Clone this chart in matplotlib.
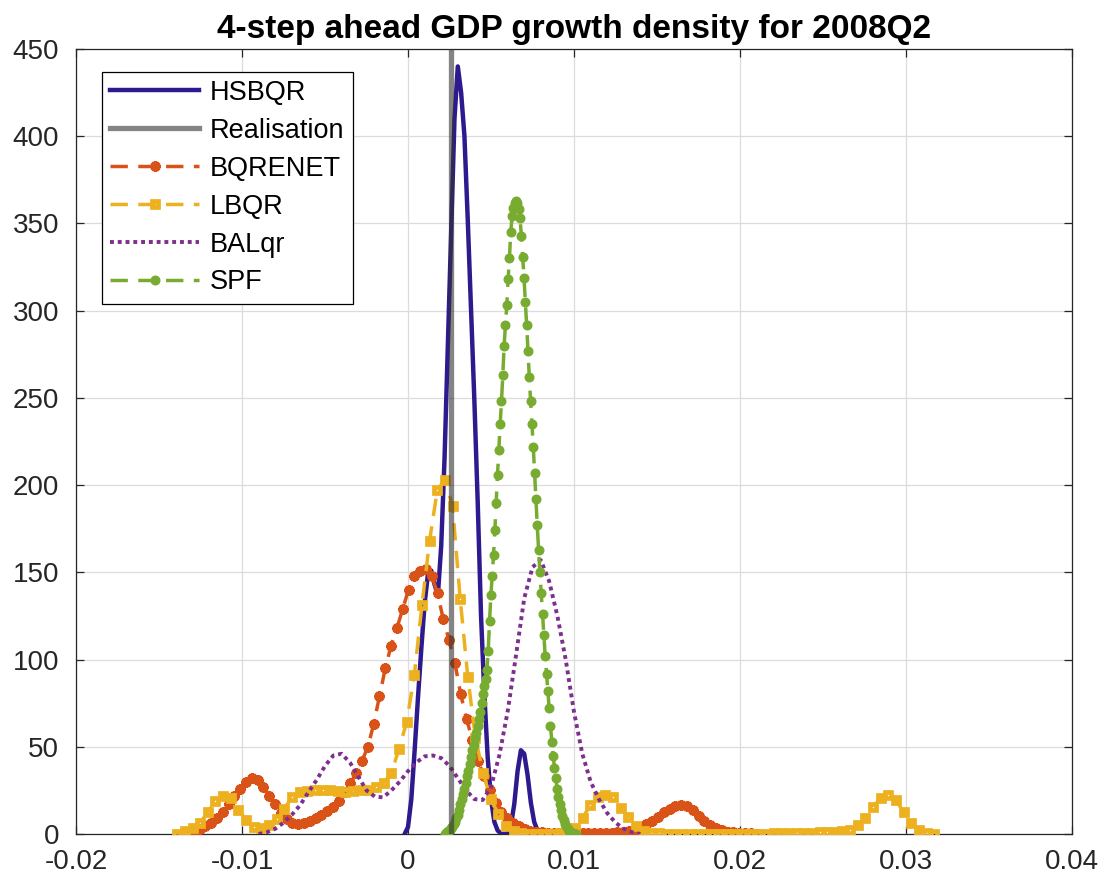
import numpy as np
import matplotlib
matplotlib.use("Agg")
import matplotlib.pyplot as plt

plt.rcParams['font.family'] = ['Liberation Sans', 'DejaVu Sans']

# ---- data -------------------------------------------------------------
title = "4-step ahead GDP growth density for 2008Q2"
labels = ["HSBQR", "Realisation", "BQRENET", "LBQR", "BALqr", "SPF"]

realisation = 0.0026

hsbqr_x = np.linspace(-0.0002, 0.0082, 43)
hsbqr_y = [0, 4, 20, 48, 78, 106, 132, 149, 151, 143,
           137, 165, 215, 280, 345, 410, 440, 425, 400, 352,
           300, 248, 190, 125, 80, 44, 20, 7, 2, 0.3,
           0, 0.5, 5, 17, 36, 48, 46, 34, 18, 7,
           2, 0.3, 0]

bqrenet_x = np.linspace(-0.0136, 0.0210, 100)
bqrenet_y = [0, 0.5, 1.5, 3, 4.5, 6.5, 9, 12.5, 17, 21.5,
             26, 30, 32, 31, 27, 22, 17, 12, 8.5, 6.5,
             6, 6.5, 7.5, 9, 11, 13, 15.5, 19, 24, 29,
             35, 42, 50, 63, 79, 95, 108, 118, 129, 140,
             148, 151, 152, 148, 138, 123, 111, 98, 80, 66,
             54, 42, 33, 25, 18, 12.5, 9, 6.5, 4.5, 3,
             2, 1.3, 0.9, 0.6, 0.5, 0.4, 0.4, 0.4, 0.4, 0.4,
             0.5, 0.5, 0.6, 0.7, 0.8, 1.0, 1.2, 1.6, 2.5, 3.8,
             5.5, 7.5, 10, 12.5, 14.5, 16, 16.5, 15.8, 13.5, 10.5,
             7.5, 5, 3.3, 2.2, 1.4, 0.9, 0.6, 0.4, 0.3, 0.2]

lbqr_x = np.linspace(-0.0139, 0.0317, 100)
lbqr_y = [0, 1.5, 3.3, 6.5, 12.5, 19, 22, 20.5, 14, 8,
          3.8, 3.5, 5, 8.5, 14.5, 21, 24, 24.5, 25, 25,
          25, 24.5, 24.2, 24.5, 25, 25.5, 27, 29.5, 34.7, 49,
          64, 91, 131, 168, 197, 203, 188, 135, 90, 55,
          35, 20, 11.5, 4.5, 1.5, 0.5, 0.2, 0.1, 0.1, 0.2,
          0.5, 1.5, 3.5, 9, 16.5, 21, 22.3, 21, 15, 9.5,
          4.5, 1.5, 0.5, 0.3, 0.2, 0.2, 0.2, 0.2, 0.2, 0.2,
          0.2, 0.2, 0.2, 0.2, 0.2, 0.2, 0.2, 0.2, 0.3, 0.3,
          0.4, 0.5, 0.6, 0.8, 1.0, 1.1, 1.3, 1.6, 2.5, 5,
          9, 15.5, 20.5, 22.3, 19.4, 12.5, 6.5, 2.5, 0.8, 0.2]

balqr_x = np.linspace(-0.0090, 0.0140, 47)
balqr_y = [0, 1, 3, 6.5, 11, 16.5, 24, 31, 39, 45,
           46, 41, 33, 25, 21.5, 21, 25, 30, 36, 41,
           44.5, 45, 43.5, 39, 32, 25, 20, 19.5, 27, 45,
           70, 102, 135, 153, 157, 145, 125, 100, 70, 46,
           30, 20, 12, 6.5, 3, 1, 0]

spf_x = np.linspace(0.0022, 0.0101, 100)
spf_y = [0, 0.5, 1, 2, 2.5, 3.5, 4, 5.5, 7, 9,
         11, 14, 17, 20, 23, 26, 29, 33, 36, 40,
         44, 48, 51, 55, 58, 62, 66, 70, 75, 80,
         85, 89, 94, 105, 122, 137, 148, 160, 174, 190,
         206, 220, 235, 248, 263, 280, 292, 303, 318, 330,
         345, 354, 359, 362, 363, 362, 358, 353, 343, 331,
         319, 305, 292, 277, 262, 248, 235, 222, 207, 192,
         177, 163, 150, 138, 126, 114, 102, 92, 82, 72,
         62, 53, 45, 38, 32, 26, 21, 17, 13.5, 10.5,
         8, 6, 4.3, 3, 2, 1.2, 0.7, 0.3, 0.1, 0]

xticks = [-0.02, -0.01, 0, 0.01, 0.02, 0.03, 0.04]
xticklabels = ["-0.02", "-0.01", "0", "0.01", "0.02", "0.03", "0.04"]
yticks = list(range(0, 451, 50))

# ---- colours ----------------------------------------------------------
c_hs = "#2E1A8E"
c_bq = "#D95319"
c_lb = "#EDB120"
c_ba = "#7E2F8E"
c_sp = "#77AC30"
c_ax = "#262626"

# ---- figure -----------------------------------------------------------
fig = plt.figure(figsize=(11.07, 8.86), dpi=100)
ax = fig.add_axes([76 / 1107, 52 / 886, 996 / 1107, 785 / 886])

h_hs, = ax.plot(hsbqr_x, hsbqr_y, color=c_hs, lw=3.2, solid_joinstyle="round", zorder=3)
h_re = ax.axvline(realisation, color=(0.2, 0.2, 0.2), alpha=0.6, lw=3.8, zorder=8)
h_bq, = ax.plot(bqrenet_x, bqrenet_y, color=c_bq, lw=2.5, dashes=(5, 3),
                marker=(8, 2, 0), ms=7.5, mew=2.4, mec=c_bq, zorder=4)
h_lb, = ax.plot(lbqr_x, lbqr_y, color=c_lb, lw=2.5, dashes=(5, 3),
                marker="s", ms=4.8, mew=3.4, mec=c_lb, mfc="none", zorder=5)
h_ba, = ax.plot(balqr_x, balqr_y, color=c_ba, lw=2.8, dashes=(1, 1.0),
                dash_capstyle="butt", zorder=6)
h_sp, = ax.plot(spf_x, spf_y, color=c_sp, lw=2.5, dashes=(5, 3),
                marker="o", ms=6.2, mec=c_sp, mfc=c_sp, zorder=7)

ax.set_xlim(-0.02, 0.04)
ax.set_ylim(0, 450)
ax.set_xticks(xticks)
ax.set_xticklabels(xticklabels)
ax.set_yticks(yticks)

ax.grid(True, color="#dcdcdc", lw=0.9)
ax.set_axisbelow(True)
for s in ax.spines.values():
    s.set_color(c_ax)
    s.set_linewidth(0.9)
    s.set_zorder(2.5)

ax.tick_params(axis="both", direction="in", length=6, width=0.9, color=c_ax,
               labelcolor=c_ax, labelsize=20, top=True, right=True)
ax.tick_params(axis="x", pad=11)
ax.tick_params(axis="y", pad=12)

ax.set_title(title, fontsize=24, fontweight="bold", color="black", pad=8)

leg = ax.legend([h_hs, h_re, h_bq, h_lb, h_ba, h_sp], labels,
                loc="upper left", bbox_to_anchor=(0.0258, 0.971),
                borderaxespad=0, fontsize=19.5, handlelength=3.3,
                handletextpad=0.4, labelspacing=0.44, borderpad=0.3,
                fancybox=False, framealpha=1, edgecolor="black", numpoints=1)
leg.get_frame().set_linewidth(0.9)
leg.set_zorder(10)

fig.savefig("out.png", dpi=100, facecolor="white")
